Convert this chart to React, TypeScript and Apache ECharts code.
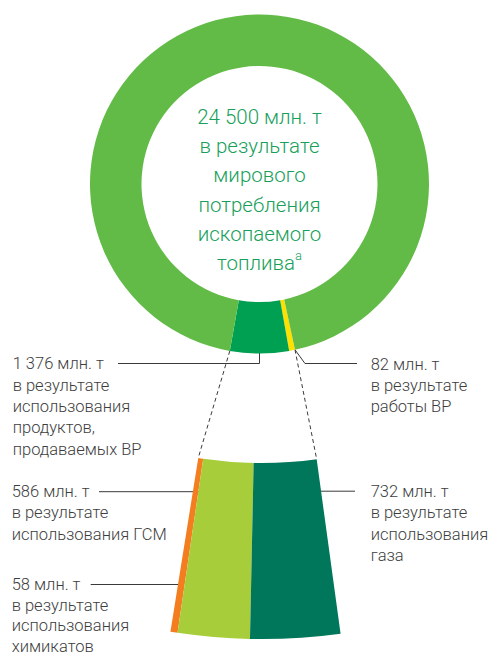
import React, { useEffect, useRef } from 'react';
import * as echarts from 'echarts';

// ---- data ----
const worldTotal = 24500; // млн. т
const bpProductsValue = 1376;
const bpOperationsValue = 82;
const productNames = ['Химикаты', 'ГСМ', 'Газ'];
const productValues = [58, 586, 732];

const centerLines = ['в результате', 'мирового', 'потребления', 'ископаемого', 'топлива'];
const productsLabelLines = ['в результате', 'использования', 'продуктов,', 'продаваемых BP'];
const operationsLabelLines = ['в результате', 'работы BP'];
const fuelLabelLines = ['в результате', 'использования ГСМ'];
const chemLabelLines = ['в результате', 'использования', 'химикатов'];
const gasLabelLines = ['в результате', 'использования', 'газа'];

// ---- colours ----
const C_WORLD = '#62bb46';
const C_PRODUCTS = '#00a052';
const C_OPS = '#ffe100';
const C_CHEM = '#f47d20';
const C_FUEL = '#a8cd3a';
const C_GAS = '#00775b';
const C_TEXT_GREEN = '#17a05a';
const C_TEXT = '#3d3d3d';
const C_LINE = '#3a3a3a';

const fmt = (v: number) => String(v).replace(/\B(?=(\d{3})+(?!\d))/g, ' ');

export default function App() {
  const ref = useRef<HTMLDivElement>(null);

  useEffect(() => {
    document.body.style.margin = '0';
    if (!ref.current) return;
    const chart = echarts.init(ref.current, undefined, { renderer: 'svg' });

    const deg = Math.PI / 180;
    const c1: [number, number] = [259.5, 184];
    const r1: [number, number] = [118, 169.5];
    const c2: [number, number] = [262, 60];
    const r2: [number, number] = [403, 579];

    const minA = 2;
    const opsAngle = Math.max(minA, (bpOperationsValue / worldTotal) * 360);
    const prodAngle = (bpProductsValue / (worldTotal - bpOperationsValue)) * (360 - opsAngle);
    const topStart = 270 + prodAngle / 2 + opsAngle;

    const wedgeStart = 260.9;
    const wedgeEnd = 277.8;

    const pt = (c: [number, number], r: number, a: number) => [
      c[0] + r * Math.cos(a * deg),
      c[1] - r * Math.sin(a * deg),
    ];

    const topLeft = pt(c1, r1[1], 270 - prodAngle / 2);
    const topRight = pt(c1, r1[1], topStart);
    const wedgeTL = pt(c2, r2[0], wedgeStart);
    const wedgeTR = pt(c2, r2[0], wedgeEnd);
    const sliceBottom = pt(c1, r1[1], 270);

    const font = { fontFamily: 'Roboto', fontWeight: 300 };
    const fs = 16.5;

    const label = (x: number, yFirst: number, head: string, lines: string[], lh = 21.3) => ({
      type: 'text',
      x,
      y: yFirst - lh / 2,
      style: {
        text: [head, ...lines].join('\n'),
        fill: C_TEXT,
        fontSize: fs,
        lineHeight: lh,
        ...font,
        textAlign: 'left',
        textVerticalAlign: 'top',
      },
    });

    const leaderY1 = 363.5;

    chart.setOption({
      animation: false,
      series: [
        {
          type: 'pie',
          silent: true,
          center: c1,
          radius: r1,
          startAngle: topStart,
          clockwise: true,
          minAngle: minA,
          label: { show: false },
          labelLine: { show: false },
          itemStyle: { borderWidth: 0 },
          data: [
            { name: 'Работа BP', value: bpOperationsValue, itemStyle: { color: C_OPS } },
            { name: 'Продукты BP', value: bpProductsValue, itemStyle: { color: C_PRODUCTS } },
            {
              name: 'Мировое потребление',
              value: worldTotal - bpProductsValue - bpOperationsValue,
              itemStyle: { color: C_WORLD },
            },
          ],
        },
        {
          type: 'pie',
          silent: true,
          center: c2,
          radius: r2,
          startAngle: wedgeStart,
          endAngle: wedgeEnd,
          clockwise: false,
          label: { show: false },
          labelLine: { show: false },
          itemStyle: { borderWidth: 0 },
          data: productNames.map((n, i) => ({
            name: n,
            value: productValues[i],
            itemStyle: { color: [C_CHEM, C_FUEL, C_GAS][i] },
          })),
        },
      ],
      graphic: [
        {
          type: 'text',
          x: c1[0],
          y: 190,
          style: {
            text:
              `${fmt(worldTotal)} млн. т\n` +
              centerLines.slice(0, -1).join('\n') +
              `\n{m|${centerLines[centerLines.length - 1]}}{s|a}`,
            fill: C_TEXT_GREEN,
            fontSize: 20.5,
            lineHeight: 29.3,
            ...font,
            textAlign: 'center',
            textVerticalAlign: 'middle',
            rich: {
              m: { fontSize: 20.5, lineHeight: 29.3, fill: C_TEXT_GREEN, ...font },
              s: { fontSize: 13, lineHeight: 22, verticalAlign: 'top', fill: C_TEXT_GREEN, ...font },
            },
          },
        },
        // dashed zoom lines
        {
          type: 'line',
          shape: { x1: topLeft[0], y1: topLeft[1], x2: wedgeTL[0], y2: wedgeTL[1] },
          style: { stroke: C_LINE, lineWidth: 1, lineDash: [4, 3] },
        },
        {
          type: 'line',
          shape: { x1: topRight[0], y1: topRight[1], x2: wedgeTR[0], y2: wedgeTR[1] },
          style: { stroke: C_LINE, lineWidth: 1, lineDash: [4, 3] },
        },
        // leader lines
        {
          type: 'polyline',
          shape: {
            points: [
              [sliceBottom[0], sliceBottom[1] - 1],
              [sliceBottom[0], leaderY1],
              [118, leaderY1],
            ],
          },
          style: { stroke: C_LINE, lineWidth: 1, fill: null },
        },
        {
          type: 'polyline',
          shape: {
            points: [
              [topRight[0], topRight[1]],
              [topRight[0] + 10, leaderY1],
              [357, leaderY1],
            ],
          },
          style: { stroke: C_LINE, lineWidth: 1, fill: null },
        },
        {
          type: 'line',
          shape: { x1: 99, y1: 491.7, x2: 217, y2: 491.7 },
          style: { stroke: C_LINE, lineWidth: 1 },
        },
        {
          type: 'line',
          shape: { x1: 288, y1: 491.2, x2: 355, y2: 491.2 },
          style: { stroke: C_LINE, lineWidth: 1 },
        },
        {
          type: 'line',
          shape: { x1: 90.7, y1: 584.5, x2: 181.5, y2: 584.5 },
          style: { stroke: C_LINE, lineWidth: 1 },
        },
        label(12.7, 364, `${fmt(bpProductsValue)} млн. т`, productsLabelLines),
        label(370.7, 364.3, `${fmt(bpOperationsValue)} млн. т`, operationsLabelLines),
        label(11.7, 491.7, `${fmt(productValues[1])} млн. т`, fuelLabelLines),
        label(11.7, 584.5, `${fmt(productValues[0])} млн. т`, chemLabelLines, 20.6),
        label(370.7, 491.7, `${fmt(productValues[2])} млн. т`, gasLabelLines),
      ],
    });

    return () => chart.dispose();
  }, []);

  return <div ref={ref} style={{ width: 490, height: 655 }} />;
}
